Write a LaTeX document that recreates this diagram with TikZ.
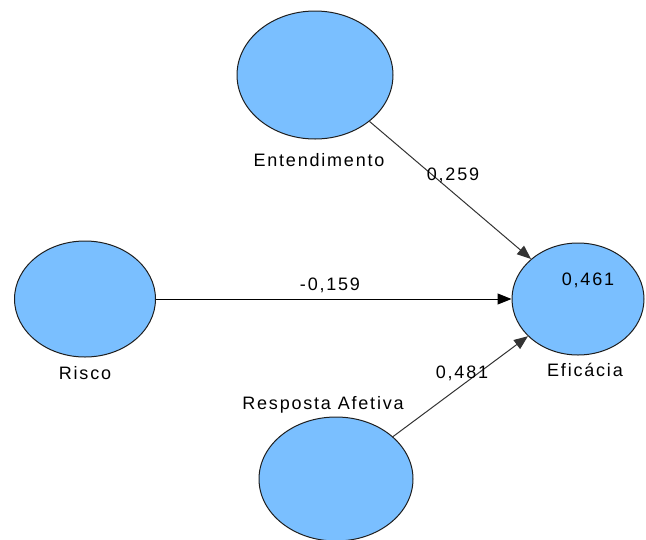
\documentclass[tikz,border=0pt]{standalone}
\usepackage{fontspec}
\setmainfont{Liberation Sans}
\usetikzlibrary{shapes.geometric,arrows.meta}
\definecolor{lvfill}{RGB}{122,191,255}
\definecolor{lvline}{RGB}{30,30,30}
\tikzset{
  lv/.style={ellipse, draw=lvline, line width=1pt, fill=lvfill, inner sep=0pt},
  lbl/.style={font=\fontsize{18}{21}\selectfont\addfontfeatures{LetterSpace=10}, text=black, inner sep=0pt},
  path/.style={line width=1pt, draw=black!80, -{Triangle[length=14pt,width=11pt]}},
}
\begin{document}
\begin{tikzpicture}[x=1pt,y=-1pt]
\useasboundingbox (0,0) rectangle (646,539);
\node[lv, minimum width=156pt, minimum height=128pt] (ent) at (315,75) {};
\node[lv, minimum width=141pt, minimum height=116pt] (ris) at (85,299) {};
\node[lv, minimum width=132pt, minimum height=112pt] (efi) at (578,299) {};
\node[lv, minimum width=154pt, minimum height=124pt] (res) at (336,479) {};
\node[lbl] (lent) at (319,160) {Entendimento};
\node[lbl] (lris) at (85,373) {Risco};
\node[lbl] (lefi) at (585,370) {Eficácia};
\node[lbl] (lres) at (323,405) {Resposta Afetiva};
\node[lbl] (r2) at (588,280) {0,461};
\draw[path] (ent) -- (efi);
\draw[path, draw=black] (ris) -- (efi);
\draw[path] (res) -- (efi);
\node[lbl] (c1) at (453,175) {0,259};
\node[lbl] (c2) at (330,285) {-0,159};
\node[lbl] (c3) at (462,373) {0,481};
\end{tikzpicture}
\end{document}
